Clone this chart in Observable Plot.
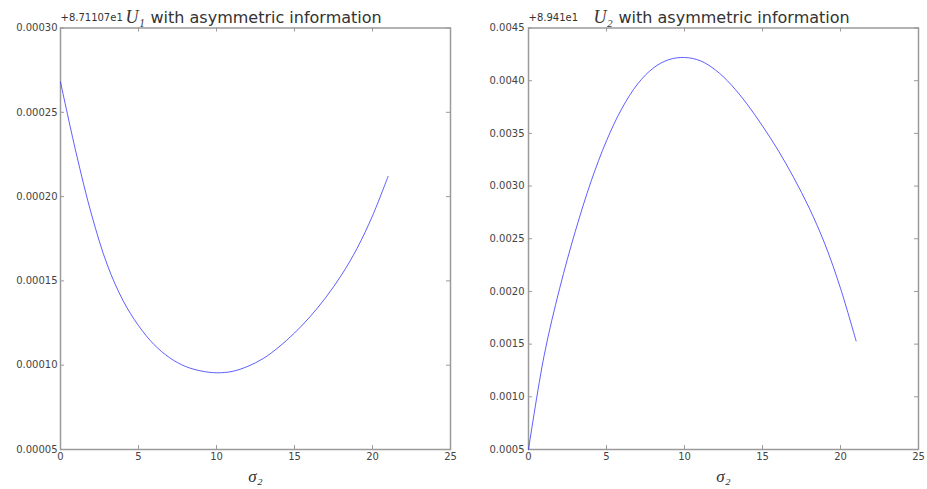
<!DOCTYPE html>
<html>
<head>
<meta charset="utf-8">
<script src="https://cdn.jsdelivr.net/npm/d3@7"></script>
<script src="https://cdn.jsdelivr.net/npm/@observablehq/plot@0.6"></script>
<style>
  html, body { margin: 0; padding: 0; background: #fff; }
  #wrap { display: flex; flex-direction: row; width: 927px; height: 489px; }
  #wrap svg { display: block; }
</style>
</head>
<body>
<div id="wrap"></div>
<script>
// ---- data ----
const sigma2 = [0, 1, 2, 3, 4, 5, 6, 7, 8, 9, 10, 11, 12, 13, 14, 15, 16, 17, 18, 19, 20, 21];
// U1 minus offset 8.71107e1
const u1 = [0.0002680, 0.0002260, 0.0001890, 0.0001595, 0.0001385, 0.0001235, 0.0001122, 0.0001044,
            0.0000993, 0.0000966, 0.0000955, 0.0000963, 0.0000993, 0.0001040, 0.0001108, 0.0001191,
            0.0001288, 0.0001401, 0.0001533, 0.0001691, 0.0001886, 0.0002120];
// U2 minus offset 8.941e1
const u2 = [0.00050, 0.00139, 0.00203, 0.00257, 0.00304, 0.00343, 0.00374, 0.00397,
            0.00412, 0.00420, 0.00422, 0.00419, 0.00410, 0.00396, 0.00378, 0.00357,
            0.00334, 0.00308, 0.00279, 0.00245, 0.00203, 0.00153];
const xTicks = [0, 5, 10, 15, 20, 25];
const u1Ticks = [0.00005, 0.00010, 0.00015, 0.00020, 0.00025, 0.00030];
const u2Ticks = [0.0005, 0.0010, 0.0015, 0.0020, 0.0025, 0.0030, 0.0035, 0.0040, 0.0045];
const offsets = ["+8.71107e1", "+8.941e1"];
const symbols = ["U\u2081", "U\u2082"];
const titleText = "with asymmetric information";
const xLabel = "\u03C3\u2082";

const H = 489;
const frameColor = "#9a9a9a";
const tickColor = "#444";

function panel({width, mLeft, mRight, ys, yTicks, yDomain, digits, pad, offset, sym}) {
  const mTop = 27.5, mBottom = 40;
  const fw = width - mLeft - mRight;
  const fh = H - mTop - mBottom;
  const data = sigma2.map((s, i) => ({s, v: ys[i]}));
  const inner = 4;
  return Plot.plot({
    width, height: H,
    marginLeft: mLeft, marginRight: mRight, marginTop: mTop, marginBottom: mBottom,
    style: {fontFamily: "DejaVu Sans", fontSize: "10px", color: tickColor, background: "#fff"},
    x: {domain: [0, 25], label: null},
    y: {domain: yDomain, label: null},
    marks: [
      Plot.axisX({ticks: xTicks, tickSize: 0, tickPadding: 3, tickFormat: d => String(d), fill: tickColor}),
      Plot.axisY({ticks: yTicks, tickSize: 0, tickPadding: pad, tickFormat: d => d.toFixed(digits), fill: tickColor}),
      // inward ticks on all four sides
      Plot.ruleX(xTicks, {x: d => d, insetTop: fh - inner, stroke: frameColor, strokeWidth: 1}),
      Plot.ruleX(xTicks, {x: d => d, insetBottom: fh - inner, stroke: frameColor, strokeWidth: 1}),
      Plot.ruleY(yTicks, {y: d => d, insetRight: fw - inner, stroke: frameColor, strokeWidth: 1}),
      Plot.ruleY(yTicks, {y: d => d, insetLeft: fw - inner, stroke: frameColor, strokeWidth: 1}),
      Plot.frame({stroke: frameColor, strokeWidth: 1.5}),
      Plot.line(data, {x: "s", y: "v", curve: "catmull-rom", stroke: "#2a2aff", strokeWidth: 1, strokeOpacity: 0.75}),
      // offset text
      Plot.text([offset], {text: d => d, frameAnchor: "top-left", textAnchor: "start", lineAnchor: "bottom",
        dy: -7, fontSize: 10, fill: "#333"}),
      // title
      Plot.text([sym], {text: d => d, frameAnchor: "top", textAnchor: "start", lineAnchor: "bottom",
        dx: -130, dy: -5, fontSize: 18, fontStyle: "italic", fontFamily: "Liberation Serif", fill: "#333"}),
      Plot.text([titleText], {text: d => d, frameAnchor: "top", textAnchor: "start", lineAnchor: "bottom",
        dx: -105, dy: -5, fontSize: 16, fill: "#333"}),
      // x label
      Plot.text([xLabel], {text: d => d, frameAnchor: "bottom", lineAnchor: "bottom",
        dy: 32, fontSize: 17, fontStyle: "italic", fontFamily: "Liberation Serif", fill: "#333"})
    ]
  });
}

const wrap = document.getElementById("wrap");
wrap.appendChild(panel({width: 463, mLeft: 60, mRight: 13, ys: u1, yTicks: u1Ticks,
  yDomain: [0.00005, 0.00030], digits: 5, pad: 3, offset: offsets[0], sym: symbols[0]}));
wrap.appendChild(panel({width: 464, mLeft: 65, mRight: 9, ys: u2, yTicks: u2Ticks,
  yDomain: [0.0005, 0.0045], digits: 4, pad: 4, offset: offsets[1], sym: symbols[1]}));
</script>
</body>
</html>
